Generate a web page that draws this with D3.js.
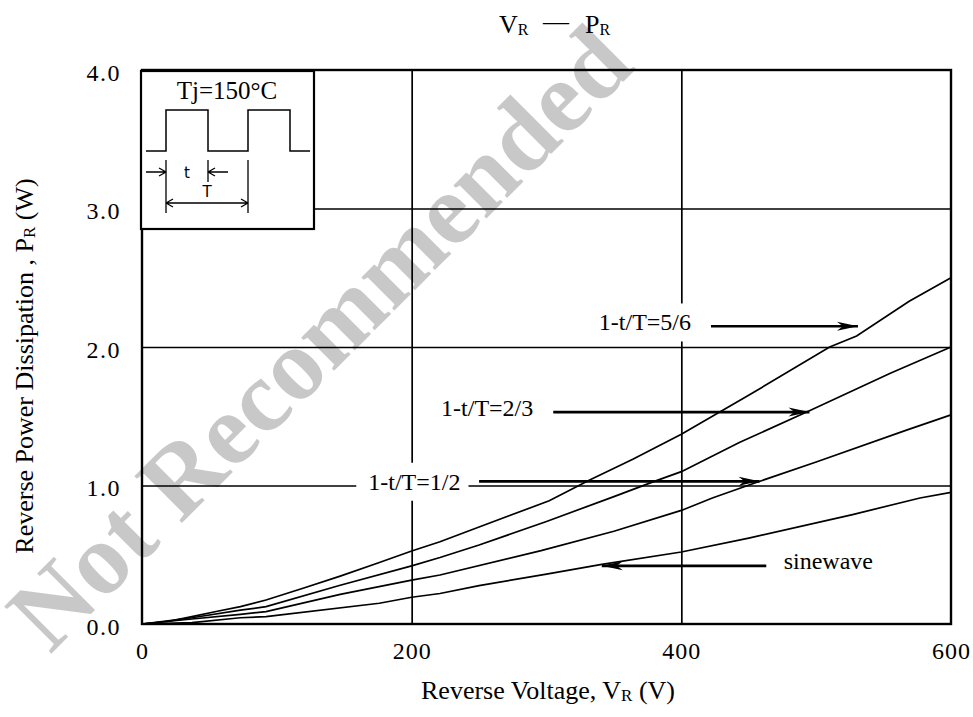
<!DOCTYPE html>
<html>
<head>
<meta charset="utf-8">
<script src="https://cdn.jsdelivr.net/npm/d3@7"></script>
<style>
  body { margin: 0; background: #fff; }
  svg text { fill: #000; }
</style>
</head>
<body>
<div id="container"></div>
<script>
//DATA
// curve 1-t/T=5/6
const vr56 = [0, 20, 37, 55, 73, 92, 120, 147, 175, 200, 221, 250, 302, 332, 364, 400, 448, 510, 530, 569, 600];
const pr56 = [0, 0.02, 0.053, 0.09, 0.125, 0.173, 0.26, 0.346, 0.44, 0.527, 0.594, 0.70, 0.89, 1.04, 1.19, 1.37, 1.64, 2.0, 2.08, 2.33, 2.50];
// curve 1-t/T=2/3
const vr23 = [0, 37, 73, 92, 147, 200, 221, 250, 300, 350, 380, 400, 443, 495, 555, 600];
const pr23 = [0, 0.045, 0.10, 0.125, 0.28, 0.42, 0.48, 0.57, 0.74, 0.92, 1.03, 1.10, 1.31, 1.54, 1.81, 2.0];
// curve 1-t/T=1/2
const vr12 = [0, 37, 73, 92, 147, 200, 221, 296, 350, 400, 423, 455, 500, 567, 600];
const pr12 = [0, 0.036, 0.07, 0.089, 0.214, 0.317, 0.354, 0.53, 0.67, 0.82, 0.91, 1.02, 1.17, 1.40, 1.51];
// sinewave
const vrSin = [0, 37, 73, 92, 176, 200, 221, 250, 300, 341, 400, 450, 527, 577, 600];
const prSin = [0, 0.01, 0.045, 0.053, 0.15, 0.193, 0.22, 0.277, 0.36, 0.43, 0.52, 0.62, 0.79, 0.91, 0.95];

const xTicks = [0, 200, 400, 600];
const yTicks = [0, 1, 2, 3, 4];

// annotation labels: text centre and arrow (from -> to) in data units
const labelText = ["1-t/T=5/6", "1-t/T=2/3", "1-t/T=1/2", "sinewave"];
const labelV = [373, 256, 202, 509];
const labelP = [2.18, 1.56, 1.03, 0.46];
const arrowFrom = [422, 305, 250, 463];
const arrowTo = [531, 495, 458, 341];
const arrowP = [2.15, 1.53, 1.03, 0.42];

//SVG
const width = 973;
const height = 717;
const serif = "'Liberation Serif', 'Times New Roman', serif";
const svg = d3.select("#container").append("svg")
    .attr("width", width)
    .attr("height", height)
    .style("font-family", serif);

//SCALES
const xScale = d3.scaleLinear().domain([0, 600]).range([142, 951]);
const yScale = d3.scaleLinear().domain([0, 4]).range([624, 70]);
const plotW = 951 - 142;
const plotH = 624 - 70;

// arrow head
svg.append("defs").append("marker")
    .attr("id", "head")
    .attr("markerUnits", "userSpaceOnUse")
    .attr("viewBox", "-22 -6 24 12")
    .attr("markerWidth", 24).attr("markerHeight", 12)
    .attr("refX", 0).attr("refY", 0)
    .attr("orient", "auto")
  .append("path")
    .attr("d", "M0,0 L-21,-4.5 L-15,0 L-21,4.5 Z")
    .attr("fill", "#000");

//GRID
const xGrid = d3.axisBottom(xScale).tickValues([200, 400]).tickSize(-plotH).tickFormat("");
const yGrid = d3.axisLeft(yScale).tickValues([1, 2, 3]).tickSize(-plotW).tickFormat("");
svg.append("g").attr("transform", "translate(0,624)").call(xGrid)
    .call(g => g.select(".domain").remove())
    .selectAll("line").attr("stroke", "#000").attr("stroke-width", 1.7);
svg.append("g").attr("transform", "translate(142,0)").call(yGrid)
    .call(g => g.select(".domain").remove())
    .selectAll("line").attr("stroke", "#000").attr("stroke-width", 1.7);

//TICK LABELS
const xAxis = d3.axisBottom(xScale).tickValues(xTicks).tickSize(0).tickPadding(20).tickFormat(d3.format("d"));
const yAxis = d3.axisLeft(yScale).tickValues(yTicks).tickSize(0).tickPadding(21).tickFormat(d3.format(".1f"));
svg.append("g").attr("transform", "translate(0,624)").call(xAxis)
    .call(g => g.select(".domain").remove())
    .selectAll("text").style("font-size", "24px").style("font-family", serif)
    .attr("letter-spacing", 1).attr("dy", "0.62em");
svg.append("g").attr("transform", "translate(142,0)").call(yAxis)
    .call(g => g.select(".domain").remove())
    .selectAll("text").style("font-size", "24px").style("font-family", serif)
    .attr("letter-spacing", 1.5).attr("dy", "0.42em");

//CURVES
const line = d3.line()
    .x(d => xScale(d[0]))
    .y(d => yScale(d[1]));
const curves = [[vr56, pr56], [vr23, pr23], [vr12, pr12], [vrSin, prSin]];
svg.append("g").selectAll("path")
    .data(curves)
    .enter().append("path")
      .attr("d", c => line(d3.zip(c[0], c[1])))
      .attr("fill", "none")
      .attr("stroke", "#000")
      .attr("stroke-width", 1.7);

//LABELS with white background
const lab = svg.append("g");
labelText.forEach(function(t, i) {
  const g = lab.append("g");
  const txt = g.append("text")
      .attr("x", xScale(labelV[i]))
      .attr("y", yScale(labelP[i]))
      .attr("dy", "0.35em")
      .attr("text-anchor", "middle")
      .style("font-size", "24px")
      .text(t);
  const bb = txt.node().getBBox();
  if (i != 3) {
    g.insert("rect", "text")
        .attr("x", bb.x - 12).attr("y", bb.y - 6)
        .attr("width", bb.width + 20).attr("height", bb.height + 12)
        .attr("fill", "#fff");
  }
  lab.append("line")
      .attr("x1", xScale(arrowFrom[i])).attr("x2", xScale(arrowTo[i]))
      .attr("y1", yScale(arrowP[i])).attr("y2", yScale(arrowP[i]))
      .attr("stroke", "#000").attr("stroke-width", 2.6)
      .attr("marker-end", "url(#head)");
});

//FRAME
svg.append("rect")
    .attr("x", 142).attr("y", 70)
    .attr("width", plotW).attr("height", plotH)
    .attr("fill", "none").attr("stroke", "#000").attr("stroke-width", 2.4);

//INSET (pulse train sketch)
const inset = svg.append("g").attr("transform", "translate(141,71)");
inset.append("rect").attr("width", 173).attr("height", 158)
    .attr("fill", "#fff").attr("stroke", "#000").attr("stroke-width", 2.2);
inset.append("text").attr("x", 86).attr("y", 28).attr("text-anchor", "middle")
    .style("font-size", "25px").text("Tj=150°C");
inset.append("path")
    .attr("d", "M5,80 H25 V39 H67 V80 H107 V39 H149 V80 H169")
    .attr("fill", "none").attr("stroke", "#000").attr("stroke-width", 1.5);
inset.append("path")
    .attr("d", "M25,89 V142 M67,89 V111 M107,89 V142")
    .attr("fill", "none").attr("stroke", "#000").attr("stroke-width", 1.3);
inset.append("path")
    .attr("d", "M5,101 H25 M25,101 l-7,-4 M25,101 l-7,4 M87,101 H67 M67,101 l7,-4 M67,101 l7,4 M25,132 H107 M25,132 l7,-4 M25,132 l7,4 M107,132 l-7,-4 M107,132 l-7,4")
    .attr("fill", "none").attr("stroke", "#000").attr("stroke-width", 1.3);
inset.append("text").attr("x", 46).attr("y", 107).attr("text-anchor", "middle")
    .style("font-family", "'DejaVu Sans', sans-serif").style("font-size", "15px").text("t");
inset.append("text").attr("x", 66).attr("y", 126).attr("text-anchor", "middle")
    .style("font-family", "'DejaVu Sans', sans-serif").style("font-size", "15px").text("T");

//TITLES
const title = svg.append("g").style("font-size", "26px");
title.append("text").attr("x", 499).attr("y", 33)
    .call(t => { t.append("tspan").text("V"); t.append("tspan").style("font-size", "16px").attr("dy", 2).text("R"); });
title.append("text").attr("x", 556).attr("y", 30).attr("text-anchor", "middle").text("—");
title.append("text").attr("x", 585).attr("y", 33)
    .call(t => { t.append("tspan").text("P"); t.append("tspan").style("font-size", "16px").attr("dy", 2).text("R"); });

svg.append("text")
    .attr("x", 548).attr("y", 699)
    .attr("text-anchor", "middle").style("font-size", "26px")
    .call(t => {
      t.append("tspan").text("Reverse Voltage, V");
      t.append("tspan").style("font-size", "17px").attr("dy", 2).text("R");
      t.append("tspan").attr("dy", -2).text(" (V)");
    });

svg.append("text")
    .attr("transform", "translate(33,366) rotate(-90)")
    .attr("text-anchor", "middle").style("font-size", "26px")
    .call(t => {
      t.append("tspan").text("Reverse Power Dissipation , P");
      t.append("tspan").style("font-size", "17px").attr("dy", 2).text("R");
      t.append("tspan").attr("dy", -2).text(" (W)");
    });

//WATERMARK
svg.append("text")
    .attr("transform", "translate(50,655) rotate(-45)")
    .style("font-size", "102px").style("font-weight", "bold")
    .style("fill", "#000").style("fill-opacity", 0.215)
    .text("Not Recommended");
</script>
</body>
</html>
